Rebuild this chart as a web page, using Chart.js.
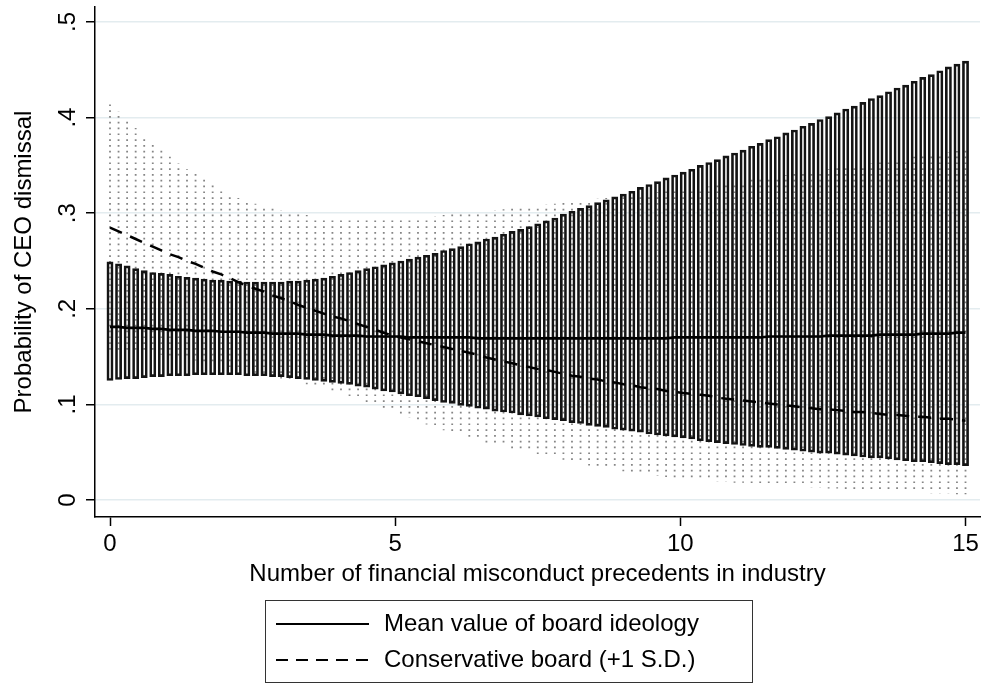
<!DOCTYPE html>
<html>
<head>
<meta charset="utf-8">
<script src="https://cdn.jsdelivr.net/npm/chart.js@4.4.1/dist/chart.umd.min.js"></script>
<style>
  html, body { margin: 0; padding: 0; background: #fff; }
  canvas { display: block; }
</style>
</head>
<body>
<canvas id="chart" width="984" height="683"></canvas>
<script>
// Number of financial misconduct precedents in industry (evaluation grid)
const precedents = [
  0, 0.15, 0.3, 0.45, 0.6, 0.75, 0.9, 1.05, 1.2, 1.35,
  1.5, 1.65, 1.8, 1.95, 2.1, 2.25, 2.4, 2.55, 2.7, 2.85,
  3, 3.15, 3.3, 3.45, 3.6, 3.75, 3.9, 4.05, 4.2, 4.35,
  4.5, 4.65, 4.8, 4.95, 5.1, 5.25, 5.4, 5.55, 5.7, 5.85,
  6, 6.15, 6.3, 6.45, 6.6, 6.75, 6.9, 7.05, 7.2, 7.35,
  7.5, 7.65, 7.8, 7.95, 8.1, 8.25, 8.4, 8.55, 8.7, 8.85,
  9, 9.15, 9.3, 9.45, 9.6, 9.75, 9.9, 10.05, 10.2, 10.35,
  10.5, 10.65, 10.8, 10.95, 11.1, 11.25, 11.4, 11.55, 11.7, 11.85,
  12, 12.15, 12.3, 12.45, 12.6, 12.75, 12.9, 13.05, 13.2, 13.35,
  13.5, 13.65, 13.8, 13.95, 14.1, 14.25, 14.4, 14.55, 14.7, 14.85,
  15
];

// Predicted probability, board ideology at its mean
const meanFit = [
  .181, .181, .180, .180, .180, .179, .179, .178, .178, .178,
  .177, .177, .177, .176, .176, .176, .175, .175, .175, .174,
  .174, .174, .174, .173, .173, .173, .172, .172, .172, .172,
  .171, .171, .171, .171, .171, .170, .170, .170, .170, .170,
  .170, .170, .170, .169, .169, .169, .169, .169, .169, .169,
  .169, .169, .169, .169, .169, .169, .169, .169, .169, .169,
  .169, .169, .169, .169, .169, .169, .170, .170, .170, .170,
  .170, .170, .170, .170, .170, .170, .170, .171, .171, .171,
  .171, .171, .171, .171, .172, .172, .172, .172, .172, .172,
  .173, .173, .173, .173, .173, .174, .174, .174, .174, .175,
  .175
];
const meanHi = [
  .249, .247, .245, .242, .240, .238, .237, .236, .234, .233,
  .232, .231, .230, .230, .229, .229, .228, .228, .228, .228,
  .228, .229, .229, .230, .231, .232, .234, .236, .238, .240,
  .242, .244, .246, .248, .250, .252, .254, .256, .258, .261,
  .263, .265, .268, .270, .273, .275, .278, .281, .283, .286,
  .289, .292, .295, .299, .302, .305, .308, .311, .314, .317,
  .320, .323, .327, .330, .333, .337, .340, .343, .346, .350,
  .353, .356, .360, .363, .366, .370, .373, .377, .380, .384,
  .387, .391, .394, .398, .401, .405, .409, .412, .416, .420,
  .423, .427, .431, .434, .438, .442, .445, .449, .453, .456,
  .459
];
const meanLo = [
  .125, .126, .127, .127, .128, .129, .129, .130, .130, .130,
  .131, .131, .131, .131, .131, .131, .130, .130, .130, .129,
  .129, .128, .127, .126, .125, .124, .123, .122, .121, .119,
  .118, .116, .114, .113, .111, .109, .108, .106, .104, .102,
  .101, .099, .098, .096, .095, .093, .092, .091, .089, .088,
  .087, .085, .084, .083, .081, .080, .078, .077, .076, .074,
  .073, .072, .071, .069, .068, .067, .066, .065, .064, .062,
  .061, .060, .059, .058, .057, .056, .055, .055, .054, .053,
  .052, .051, .050, .049, .049, .048, .047, .046, .045, .044,
  .044, .043, .042, .041, .040, .040, .039, .038, .037, .037,
  .036
];

// Predicted probability, conservative board (+1 S.D.)
const consFit = [
  .285, .281, .277, .273, .269, .265, .261, .257, .254, .250,
  .247, .243, .239, .236, .232, .228, .224, .221, .218, .214,
  .211, .208, .204, .201, .198, .195, .192, .190, .187, .184,
  .181, .178, .175, .172, .170, .168, .166, .164, .162, .160,
  .158, .156, .154, .152, .149, .147, .145, .143, .141, .139,
  .137, .136, .134, .132, .130, .129, .127, .126, .124, .123,
  .121, .120, .118, .117, .116, .114, .113, .112, .111, .110,
  .109, .107, .106, .105, .104, .103, .102, .101, .100, .099,
  .098, .097, .096, .095, .095, .094, .093, .092, .092, .091,
  .090, .089, .089, .088, .087, .087, .086, .085, .085, .084,
  .083
];
const consHi = [
  .414, .406, .398, .389, .381, .374, .366, .359, .352, .346,
  .341, .335, .330, .325, .321, .316, .312, .310, .307, .305,
  .303, .301, .299, .298, .296, .295, .295, .294, .294, .294,
  .294, .294, .294, .295, .295, .295, .296, .296, .297, .298,
  .299, .300, .300, .301, .302, .303, .304, .305, .306, .307,
  .308, .309, .310, .311, .312, .313, .314, .315, .316, .317,
  .318, .319, .320, .321, .322, .323, .324, .325, .326, .327,
  .328, .330, .331, .332, .333, .335, .336, .337, .339, .340,
  .341, .342, .344, .345, .346, .347, .349, .350, .351, .352,
  .354, .355, .356, .357, .359, .360, .361, .363, .364, .365,
  .367
];
const consLo = [
  .157, .156, .156, .155, .154, .153, .152, .150, .149, .148,
  .146, .145, .143, .141, .139, .137, .135, .133, .131, .129,
  .127, .125, .123, .121, .119, .117, .114, .111, .108, .105,
  .102, .099, .096, .093, .089, .086, .082, .079, .076, .073,
  .070, .068, .065, .063, .060, .058, .056, .054, .052, .050,
  .048, .046, .044, .042, .040, .038, .036, .035, .033, .032,
  .030, .029, .028, .026, .025, .024, .023, .022, .022, .021,
  .020, .019, .019, .018, .018, .017, .016, .016, .015, .015,
  .014, .014, .013, .013, .012, .012, .011, .011, .010, .010,
  .010, .009, .009, .008, .008, .008, .007, .007, .007, .006,
  .006
];

const xTicks = [0, 5, 10, 15];
const xTickLabels = ['0', '5', '10', '15'];
const yTicks = [0, 0.1, 0.2, 0.3, 0.4, 0.5];
const yTickLabels = ['0', '.1', '.2', '.3', '.4', '.5'];
const seriesLabels = ['Mean value of board ideology', 'Conservative board (+1 S.D.)'];
const xTitle = 'Number of financial misconduct precedents in industry';
const yTitle = 'Probability of CEO dismissal';

const FONT = "'Liberation Sans', Arial, Helvetica, sans-serif";
Chart.defaults.font.family = FONT;
Chart.defaults.font.size = 24;
Chart.defaults.color = '#000';

const LINE_DASH = [13, 9];

// Dotted vertical spikes: confidence interval of the conservative-board curve
const spikePlugin = {
  id: 'ciSpikes',
  beforeDatasetsDraw(chart) {
    const { ctx, chartArea: a, scales: { x, y } } = chart;
    const period = 5.8;
    ctx.save();
    ctx.beginPath();
    ctx.rect(a.left, a.top, a.right - a.left, a.bottom - a.top);
    ctx.clip();
    ctx.strokeStyle = '#858585';
    ctx.lineWidth = 1.8;
    ctx.setLineDash([1.7, period - 1.7]);
    precedents.forEach((v, i) => {
      const px = x.getPixelForValue(v);
      const top = y.getPixelForValue(consHi[i]);
      const bot = y.getPixelForValue(consLo[i]);
      ctx.lineDashOffset = top % period;
      ctx.beginPath();
      ctx.moveTo(px, top);
      ctx.lineTo(px, bot);
      ctx.stroke();
    });
    ctx.restore();
  }
};

// Vertical (rotated) tick labels on the probability axis
const yLabelPlugin = {
  id: 'yTickLabels',
  afterDraw(chart) {
    const { ctx, scales: { y } } = chart;
    ctx.save();
    ctx.font = '24px ' + FONT;
    ctx.fillStyle = '#000';
    ctx.textAlign = 'center';
    ctx.textBaseline = 'middle';
    yTicks.forEach((v, i) => {
      ctx.save();
      ctx.translate(68, y.getPixelForValue(v));
      ctx.rotate(-Math.PI / 2);
      ctx.fillText(yTickLabels[i], 0, 0);
      ctx.restore();
    });
    ctx.restore();
  }
};

// Boxed legend below the axis title, one row per curve
const legendPlugin = {
  id: 'boxLegend',
  afterDraw(chart) {
    const ctx = chart.ctx;
    const box = { x: 265.5, y: 600.5, w: 487, h: 82 };
    ctx.save();
    ctx.strokeStyle = '#333';
    ctx.lineWidth = 1;
    ctx.strokeRect(box.x, box.y, box.w, box.h);
    ctx.font = '24px ' + FONT;
    ctx.fillStyle = '#000';
    ctx.textAlign = 'left';
    ctx.textBaseline = 'middle';
    const rows = chart.data.datasets.filter(d => d.type === 'line');
    rows.forEach((ds, i) => {
      const cy = 624 + i * 36;
      ctx.strokeStyle = ds.borderColor;
      ctx.lineWidth = 2;
      ctx.setLineDash(ds.borderDash ? [12, 8] : []);
      ctx.beginPath();
      ctx.moveTo(276, cy);
      ctx.lineTo(369, cy);
      ctx.stroke();
      ctx.setLineDash([]);
      ctx.fillText(ds.label, 384, cy);
    });
    ctx.restore();
  }
};

new Chart(document.getElementById('chart'), {
  type: 'bar',
  data: {
    datasets: [
      {
        type: 'line',
        label: seriesLabels[0],
        data: precedents.map((v, i) => ({ x: v, y: meanFit[i] })),
        borderColor: '#000',
        borderWidth: 2.7,
        pointRadius: 0,
        tension: 0,
        order: 0
      },
      {
        type: 'line',
        label: seriesLabels[1],
        data: precedents.map((v, i) => ({ x: v, y: consFit[i] })),
        borderColor: '#000',
        borderWidth: 2.5,
        borderDash: LINE_DASH,
        pointRadius: 0,
        tension: 0,
        order: 0
      },
      {
        type: 'bar',
        label: 'CI, mean board ideology',
        data: precedents.map((v, i) => ({ x: v, y: [meanLo[i], meanHi[i]] })),
        backgroundColor: 'rgba(0,0,0,0)',
        borderColor: '#141414',
        borderWidth: 2,
        borderSkipped: false,
        barThickness: 6.2,
        order: 1
      }
    ]
  },
  options: {
    responsive: false,
    animation: false,
    devicePixelRatio: 1,
    layout: { padding: { left: 0, right: 4, top: 7, bottom: 93 } },
    plugins: { legend: { display: false }, tooltip: { enabled: false } },
    scales: {
      x: {
        type: 'linear',
        min: -0.263,
        max: 15.254,
        offset: false,
        afterBuildTicks: s => { s.ticks = xTicks.map(v => ({ value: v })); },
        afterFit: s => { s.height = 73; },
        grid: { offset: false, drawOnChartArea: false, tickLength: 9, tickColor: '#000', tickWidth: 1.5 },
        border: { color: '#000', width: 1.5 },
        ticks: { padding: 4, maxRotation: 0, autoSkip: false,
                 callback: v => xTickLabels[xTicks.indexOf(v)] },
        title: { display: true, text: xTitle, padding: { top: 0, bottom: 1 } }
      },
      y: {
        type: 'linear',
        min: -0.0178,
        max: 0.5157,
        afterBuildTicks: s => { s.ticks = yTicks.map(v => ({ value: v })); },
        afterFit: s => { s.width = 95; },
        grid: { color: '#e3ecef', lineWidth: 1.5, tickLength: 9, tickColor: '#000', tickWidth: 1.5 },
        border: { color: '#000', width: 1.5 },
        ticks: { display: false },
        title: { display: true, text: yTitle, padding: { top: 10, bottom: 0 } }
      }
    }
  },
  plugins: [spikePlugin, yLabelPlugin, legendPlugin]
});
</script>
</body>
</html>
